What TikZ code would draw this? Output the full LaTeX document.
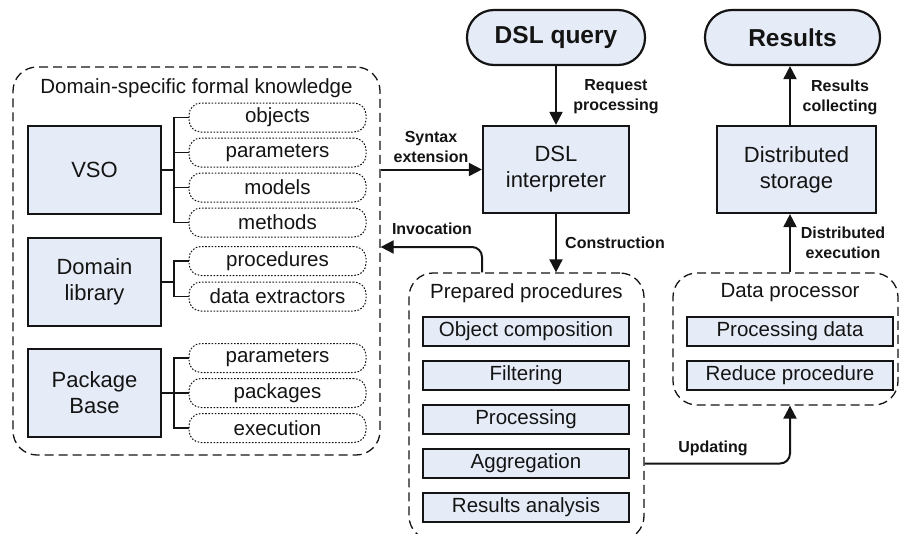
\documentclass[tikz,border=0pt]{standalone}
\usepackage{fontspec}
\setmainfont{Liberation Sans}
\usetikzlibrary{arrows.meta,calc}
\definecolor{boxfill}{RGB}{230,236,247}
\definecolor{ink}{RGB}{20,20,20}
\tikzset{
  mainbox/.style={draw=ink,line width=2.2pt,fill=boxfill,align=center,inner sep=0pt,
     font=\fontsize{22}{26}\selectfont,text=ink},
  pillhead/.style={draw=ink,line width=2.2pt,fill=boxfill,rounded corners=27pt,inner sep=0pt,
     font=\fontsize{24.5}{28}\bfseries\selectfont,text=ink},
  itembox/.style={draw=ink,line width=1.7pt,fill=boxfill,inner sep=0pt,minimum width=206pt,minimum height=29pt,
     font=\fontsize{20.5}{24}\selectfont,text=ink},
  dotpill/.style={draw=ink,line width=1pt,dash pattern=on 1.6pt off 1.6pt,rounded corners=12pt,inner sep=0pt,
     minimum width=177pt,minimum height=29pt,font=\fontsize{20.5}{24}\selectfont,text=ink},
  group/.style={draw=ink,line width=1.3pt,dash pattern=on 9pt off 5pt,rounded corners=24pt,inner sep=0pt},
  grouptitle/.style={font=\fontsize{20.5}{24}\selectfont,text=ink,inner sep=0pt},
  tree/.style={draw=ink,line width=1.6pt},
  arr/.style={draw=ink,line width=2pt,-{Triangle[length=13pt,width=13pt]}},
  lbl/.style={font=\fontsize{16}{20}\bfseries\selectfont,text=ink,align=center,inner sep=0pt},
}
\begin{document}
\begin{tikzpicture}[x=1pt,y=-1pt]
\useasboundingbox (0,0) rectangle (899,533);
\clip (0,0) rectangle (899,533);
% left group
\node[group,minimum width=367pt,minimum height=388pt] (dsk) at (196.5,261) {};
\node[grouptitle] (dsktitle) at (196.5,88) {Domain-specific formal knowledge};
\node[mainbox,minimum width=133pt,minimum height=88pt] (vso) at (94.5,170) {VSO};
\node[mainbox,minimum width=133pt,minimum height=88pt] (dlib) at (94.5,282) {Domain\\library};
\node[mainbox,minimum width=133pt,minimum height=88pt] (pkg) at (94.5,393) {Package\\Base};
\node[dotpill] (obj) at (277.5,117.5) {objects};
\node[dotpill] (par) at (277.5,152.5) {parameters};
\node[dotpill] (mod) at (277.5,187.5) {models};
\node[dotpill] (meth) at (277.5,222.5) {methods};
\node[dotpill] (proc) at (277.5,261) {procedures};
\node[dotpill] (dext) at (277.5,296.5) {data extractors};
\node[dotpill] (ppar) at (277.5,358) {parameters};
\node[dotpill] (ppkg) at (277.5,393) {packages};
\node[dotpill] (pexe) at (277.5,428) {execution};
\coordinate (bar) at (174,0);
% tree connectors
\draw[tree] (vso.east) -- (vso.east -| bar);
\draw[tree] (obj.west) -- (obj.west -| bar) -- (meth.west -| bar) -- (meth.west);
\draw[tree] (par.west) -- (par.west -| bar);
\draw[tree] (mod.west) -- (mod.west -| bar);
\draw[tree] (dlib.east) -- (dlib.east -| bar);
\draw[tree] (proc.west) -- (proc.west -| bar) -- (dext.west -| bar) -- (dext.west);
\draw[tree] (pkg.east) -- (pkg.east -| bar);
\draw[tree] (ppar.west) -- (ppar.west -| bar) -- (pexe.west -| bar) -- (pexe.west);
\draw[tree] (ppkg.west) -- (ppkg.west -| bar);
% center column
\node[pillhead,minimum width=178pt,minimum height=55pt] (query) at (556,37.5) {DSL query};
\node[mainbox,minimum width=146pt,minimum height=87pt] (interp) at (556,169.5) {DSL\\interpreter};
\node[group,minimum width=235pt,minimum height=267pt] (prep) at (526.5,406.5) {};
\node[grouptitle] (preptitle) at (526.5,293) {Prepared procedures};
\node[itembox] (objc) at (526,331.5) {Object composition};
\node[itembox] (filt) at (526,375.5) {Filtering};
\node[itembox] (procg) at (526,419.5) {Processing};
\node[itembox] (aggr) at (526,463.5) {Aggregation};
\node[itembox] (resa) at (526,507.5) {Results analysis};
% right column
\node[pillhead,minimum width=175pt,minimum height=55pt] (res) at (792.5,37.5) {Results};
\node[mainbox,minimum width=159pt,minimum height=87pt] (stor) at (796.5,169.5) {Distributed\\storage};
\node[group,minimum width=225pt,minimum height=132pt] (dp) at (785.5,339) {};
\node[grouptitle] (dptitle) at (790,293) {Data processor};
\node[itembox] (pdata) at (790,331.5) {Processing data};
\node[itembox] (redp) at (790,375.5) {Reduce procedure};
\coordinate (col) at (790,0);
\coordinate (inv) at (482,247);
% arrows
\draw[arr] (query.south) -- (interp.north);
\node[lbl] (lreq) at (616,97) {Request\\processing};
\draw[arr] (interp.west -| dsk.east) -- (interp.west);
\node[lbl] (lsyn) at (431,147) {Syntax\\extension};
\draw[arr,rounded corners=10pt] (prep.north -| inv) |- (dsk.east |- inv);
\node[lbl] (linv) at (432,229) {Invocation};
\draw[arr] (interp.south) -- (interp.south |- prep.north);
\node[lbl] (lcon) at (615,243) {Construction};
\draw[arr] (stor.north -| col) -- (res.south -| col);
\node[lbl] (lrc) at (840,97) {Results\\collecting};
\draw[arr] (dp.north -| col) -- (stor.south -| col);
\node[lbl] (lde) at (843,243) {Distributed\\execution};
\draw[arr,rounded corners=10pt] (prep.east |- aggr) -| (dp.south -| col);
\node[lbl] (lupd) at (713,448) {Updating};
\end{tikzpicture}
\end{document}
